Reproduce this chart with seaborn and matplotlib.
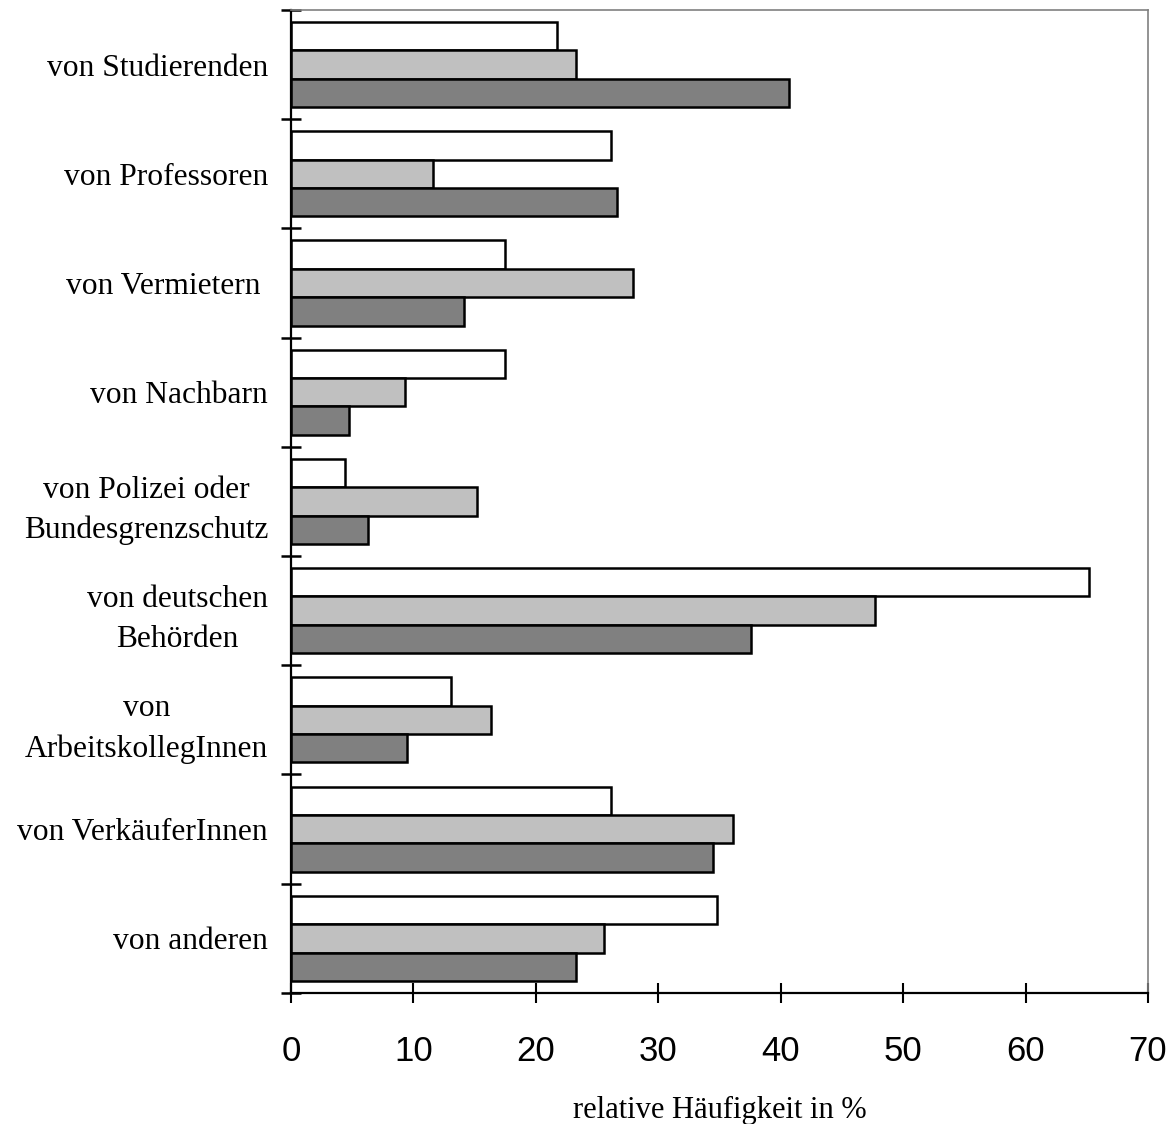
import numpy as np
import pandas as pd
import matplotlib
matplotlib.use('Agg')
import matplotlib.pyplot as plt
import seaborn as sns

# Categories (top to bottom) and the three series
categories = ['von Studierenden', 'von Professoren', 'von Vermietern ', 'von Nachbarn',
              'von Polizei oder\nBundesgrenzschutz', 'von deutschen\nBehörden',
              'von\nArbeitskollegInnen', 'von VerkäuferInnen', 'von anderen']
series_names = ['Gruppe A', 'Gruppe B', 'Gruppe C']
white_vals = [21.7, 26.1, 17.5, 17.5, 4.4, 65.2, 13.1, 26.1, 34.8]
light_vals = [23.3, 11.6, 27.9, 9.3, 15.2, 47.7, 16.3, 36.1, 25.6]
dark_vals = [40.7, 26.6, 14.1, 4.7, 6.3, 37.6, 9.5, 34.5, 23.3]
x_ticks = [0, 10, 20, 30, 40, 50, 60, 70]

sns.set_style('white')
plt.rcParams['font.family'] = ['Liberation Serif', 'DejaVu Serif']
plt.rcParams['text.color'] = 'black'
plt.rcParams['axes.labelcolor'] = 'black'
plt.rcParams['xtick.color'] = 'black'
plt.rcParams['ytick.color'] = 'black'

# long format table for seaborn
rows = []
for i, cat in enumerate(categories):
    for name, vals in zip(series_names, [white_vals, light_vals, dark_vals]):
        rows.append({'Kategorie': cat, 'Gruppe': name, 'Wert': vals[i]})
df = pd.DataFrame(rows)

fig = plt.figure(figsize=(11.7, 11.24), dpi=100)
ax = fig.add_axes([0.2487, 0.1166, 0.7325, 0.8746])

sns.barplot(data=df, y='Kategorie', x='Wert', hue='Gruppe', order=categories,
            hue_order=series_names, orient='h', palette=['#ffffff', '#c0c0c0', '#808080'],
            saturation=1, edgecolor='black', linewidth=1.8, width=0.78,
            legend=False, ax=ax)

ax.set_xlim(0, 70)
ax.set_ylim(8.5, -0.5)
ax.set_ylabel('')

# category boundaries as major ticks, labels on minor ticks at centres
ax.set_yticks(np.arange(-0.5, 9.0, 1.0), labels=[''] * 10)
ax.set_yticks(np.arange(len(categories)), labels=categories, minor=True)
ax.tick_params(axis='y', which='major', left=True, direction='inout', length=14.5, width=1.8, color='black')
ax.tick_params(axis='y', which='minor', left=True, length=0, pad=16.5, labelsize=22.7, labelcolor='black')
for lab in ax.get_yticklabels(minor=True):
    lab.set_multialignment('center')
    lab.set_linespacing(1.5)

ax.set_xticks(x_ticks, labels=[str(t) for t in x_ticks])
ax.tick_params(axis='x', bottom=True, direction='inout', length=14.5, width=1.5, color='black',
               pad=23, labelcolor='black')
for lab in ax.get_xticklabels():
    lab.set_fontfamily('Liberation Sans')
    lab.set_fontsize(25)

ax.set_xlabel('relative Häufigkeit in %', fontsize=22, labelpad=20, color='black')

for side in ['left', 'bottom']:
    ax.spines[side].set_color('black')
    ax.spines[side].set_linewidth(1.6)
for side in ['top', 'right']:
    ax.spines[side].set_color('#808080')
    ax.spines[side].set_linewidth(1.2)

plt.savefig('out.png', dpi=100)
plt.close()
